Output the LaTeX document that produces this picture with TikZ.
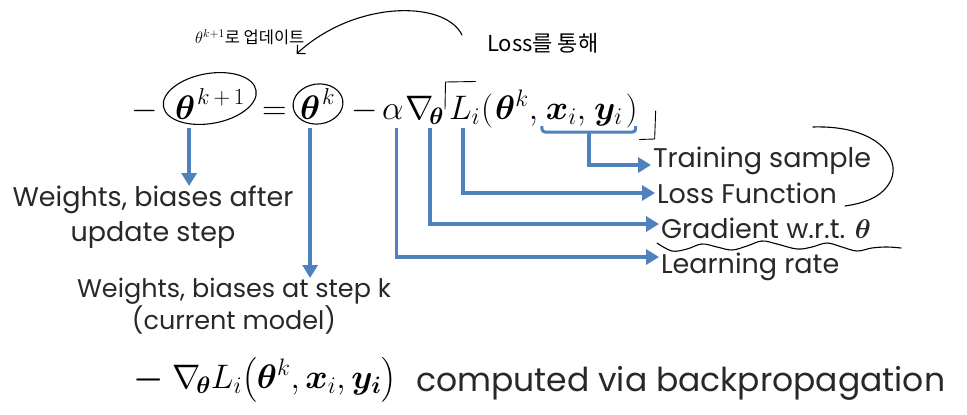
\RequirePackage{fix-cm}
\documentclass[tikz,border=0pt]{standalone}
\usepackage{amsmath,bm}
\usepackage{fontspec}
\setmainfont{Poppins}
\newfontfamily\cjk{Noto Sans CJK KR}
\usetikzlibrary{arrows.meta,calc}
\definecolor{ablue}{RGB}{79,129,189}
\definecolor{txt}{RGB}{40,40,40}
\begin{document}
\begin{tikzpicture}[x=1pt,y=-1pt,
  mth/.style={inner sep=0pt, outer sep=0pt, anchor=base west, font=\fontsize{34}{40}\selectfont},
  sup/.style={inner sep=0pt, outer sep=0pt, anchor=base west, font=\fontsize{23}{26}\selectfont},
  lbl/.style={inner sep=2pt, outer sep=0pt, anchor=base west, text=txt, font=\fontsize{27}{30}\selectfont},
  llbl/.style={inner sep=0pt, outer sep=0pt, anchor=north, text=txt, align=center},
  barrow/.style={draw=ablue, line width=3.5pt, -{Triangle[length=13pt,width=15pt]}},
  bline/.style={draw=ablue, line width=3pt},
  hand/.style={draw=black, line width=1.1pt, line cap=round, line join=round},
  hw/.style={inner sep=0pt, anchor=west, text=black},
  ]
\useasboundingbox (0,0) rectangle (967,415);
\coordinate (top) at (0,128);

% ---- main equation ----
\node[mth] (m1) at (131,119) {$-$};
\node[mth] (thA) at (175,119) {$\bm\theta$};
\node[sup] (supA) at ($(thA.base east)+(2,-15)$) {$k\mkern3mu{+}\mkern3mu1$};
\node[mth] (eq) at (262,119) {$=$};
\node[mth] (thB) at (300,119) {$\bm\theta$};
\node[sup] (supB) at ($(thB.base east)+(2,-15)$) {$k$};
\node[mth] (m2) at (351,119) {$-$};
\node[mth] (al) at (382,119) {$\alpha$};
\node[mth] (nb) at (405,119) {$\nabla_{\!\bm\theta}$};
\node[mth] (Li) at ($(nb.base east)+(5,0)$) {$L_i$};
\node[mth] (lp) at ($(Li.base east)+(1,0)$) {$($};
\node[mth] (thC) at ($(lp.base east)+(2,0)$) {$\bm\theta^k,$};
\node[mth] (xs) at ($(thC.base east)+(8,0)$) {$\bm x_i,$};
\node[mth] (ys) at ($(xs.base east)+(8,0)$) {$\bm y_i$};
\node[mth] (rp) at ($(ys.base east)+(3,0)$) {$)$};

% hand-drawn circles and marks
\coordinate (cA) at ($(thA.base west)!0.5!(supA.base east)+(0,-13)$);
\draw[hand, rotate around={10:(cA)}] (cA) ellipse (47 and 25);
\coordinate (cB) at ($(thB.base west)+(18,-15)$);
\draw[hand, rotate around={8:(cB)}] (cB) ellipse (25 and 20);
\draw[hand, line width=0.9pt] ($(Li.base west)+(-4,-10)$) -- ++(0.5,-27) -- ++(30,-0.5);
\draw[hand, line width=0.9pt] ($(rp.base east)+(18,-8)$) -- ++(-1,28) -- ++(-15,0.5);

% bracket under training sample
\coordinate (bl) at ($(xs.base west)+(-4,7)$);
\coordinate (br) at ($(rp.base east)+(-2,7)$);
\draw[bline, rounded corners=3pt] (bl) -- ++(0,6) -| (br);
\coordinate (bm) at ($(bl)!0.5!(br)+(0,6)$);

% ---- labels ----
\node[lbl] (ts) at (651,167) {Training sample};
\node[lbl] (lf) at (655,203) {Loss Function};
\node[lbl] (gr) at (659,238) {Gradient w.r.t. $\bm\theta$};
\node[lbl] (lr) at (659,273) {Learning rate};

\node[llbl, font=\fontsize{27}{35}\selectfont] (wa) at (153,186) {Weights, biases after\\update step};
\node[llbl, font=\fontsize{25.5}{30}\selectfont] (wb) at (234,278) {Weights, biases at step k\\(current model)};

% ---- blue arrows ----
\draw[barrow] ($(thA.south |- top)+(4,0)$) -- ($(thA.south |- wa.north)+(4,0)$);
\draw[barrow] (thB.south |- top) -- (thB.south |- wb.north);
\draw[barrow] (bm) |- ($(ts.base west)+(0,-2)$);
\draw[barrow] ($(Li.base west)+(14,9)$) |- ($(lf.base west)+(0,-10)$);
\draw[barrow] ($(nb.base east)+(-14,9)$) |- ($(gr.base west)+(0,-14)$);
\draw[barrow] ($(al.south |- top)+(4,0)$) |- ($(lr.base west)+(0,-16)$);

% brace and wavy underline
\draw[hand, shift={(ts.base west)}] (162,-40) .. controls (225,-42) and (250,-10) .. (240,13)
   .. controls (232,30) and (214,36) .. (194,39);
\draw[hand, shift={(gr.base west)}] plot[smooth, tension=0.6] coordinates {(-2,5) (13,13) (28,11) (43,6) (58,9) (73,12) (88,8) (103,3) (118,6) (138,11) (153,9) (168,5) (183,9) (198,13) (213,10) (228,9) (242,10)};

% ---- handwritten notes ----
\node[hw, font=\cjk\fontsize{16.5}{20}\selectfont] (upd) at (195,37) {$\theta^{k+1}$로 업데이트};
\node[hw, font=\cjk\fontsize{22}{24}\selectfont] (los) at (487,43) {Loss를 통해};
\draw[hand, -{Straight Barb[length=6pt,width=12pt]}] ($(los.west)+(-25,-8)$) .. controls (445,0) and (355,0) .. ($(upd.south east)+(-8,9)$);

% ---- bottom line ----
\node[mth] (bm1) at (133,388) {$\bm{-}$};
\node[mth] (beq) at (172,388) {$\nabla_{\!\bm\theta} L_i\bigl(\bm\theta^k, \bm x_i, \bm y_{\bm i}\bigr)$};
\node[lbl, inner sep=0pt, font=\fontsize{33}{40}\selectfont] (bt) at ($(beq.base east)+(20,3)$) {computed via backpropagation};
\end{tikzpicture}
\end{document}
